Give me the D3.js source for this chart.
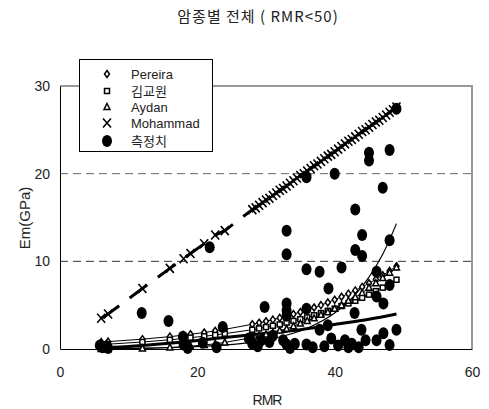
<!DOCTYPE html>
<html>
<head>
<meta charset="utf-8">
<script src="https://cdn.jsdelivr.net/npm/d3@7"></script>
<style>
  body { margin: 0; background: #fff; }
  text { font-family: "Liberation Sans", Arial, sans-serif; fill: #222; }
  .ko { font-family: "Noto Sans CJK KR", "Liberation Sans", sans-serif; }
</style>
</head>
<body>
<div id="root"></div>
<script>
// RMR values where the empirical models were evaluated
const modelRmr = [6, 7, 12, 16, 18, 19, 21, 22.6, 24, 28, 29, 30, 31, 32, 33, 34, 35, 36, 37, 38, 39, 40, 41, 42, 43, 44, 45, 46, 47, 48, 49];
const pereira = [0.79, 0.84, 1.12, 1.41, 1.58, 1.68, 1.88, 2.07, 2.24, 2.82, 2.99, 3.16, 3.35, 3.55, 3.76, 3.98, 4.22, 4.47, 4.73, 5.01, 5.31, 5.62, 5.96, 6.31, 6.68, 7.08, 7.5, 7.94, 8.41, 8.91, 9.44];
const kim = [0.5, 0.55, 0.8, 1.05, 1.2, 1.3, 1.45, 1.6, 1.75, 2.2, 2.35, 2.5, 2.65, 2.8, 3.0, 3.2, 3.4, 3.6, 3.85, 4.1, 4.35, 4.6, 4.9, 5.2, 5.5, 5.85, 6.2, 6.6, 7.0, 7.4, 7.9];
const aydan = [0.01, 0.01, 0.07, 0.18, 0.27, 0.32, 0.46, 0.59, 0.75, 1.3, 1.5, 1.64, 1.85, 2.1, 2.3, 2.6, 2.9, 3.2, 3.5, 3.9, 4.2, 4.6, 5.0, 5.5, 5.9, 6.4, 7.0, 7.5, 8.1, 8.7, 9.3];
const mohammad = [3.5, 4.0, 6.9, 9.2, 10.3, 10.9, 12.0, 13.0, 13.5, 15.9, 16.4, 17.0, 17.5, 18.1, 18.6, 19.2, 19.8, 20.3, 20.9, 21.4, 22.0, 22.5, 23.1, 23.7, 24.2, 24.8, 25.3, 25.9, 26.4, 27.0, 27.6];

// extra Mohammad markers in the dense part (repeated RMR values)
const mohExtraRmr = [28.5, 29.5, 30.5, 31.5, 32.5, 33.5, 34.5, 35.5, 36.5, 37.5, 38.5, 39.5, 40.5, 41.5, 42.5, 43.5, 44.5, 45.5, 46.5, 47.5, 48.5];
const mohExtraEm = [16.1, 16.7, 17.2, 17.8, 18.3, 18.9, 19.5, 20.0, 20.6, 21.1, 21.7, 22.2, 22.8, 23.4, 23.9, 24.5, 25.0, 25.6, 26.1, 26.7, 27.3];

// measured values (측정치)
const measRmr = [5.8, 6.2, 6.8, 7.0, 11.9, 15.8, 17.9, 18.0, 18.6, 20.8, 21.8, 22.8, 23.7,
  27.5, 28.0, 28.8, 29.3, 29.8, 30.5, 31.0, 32.5, 33, 33, 33, 33, 33, 33, 33.5, 34.2,
  35.9, 35.9, 35.9, 35.9, 36.8, 37.8, 37.8, 38.5, 39.1, 39.0, 39.5, 40, 40.5, 41, 41.5, 42, 42.5,
  43, 43, 42.9, 43.5, 44, 44, 43.9, 44.5, 45, 45, 46.1, 46.1, 46.1, 47, 47.1, 47.1,
  48, 48, 48, 48, 49, 49];
const measEm = [0.4, 0.2, 0.3, 0.1, 4.1, 3.2, 1.4, 0.5, 0.1, 0.7, 11.6, 0.2, 2.5,
  1.2, 0.6, 0.3, 1.0, 4.8, 0.8, 1.5, 1.0, 13.5, 10.8, 5.2, 4.4, 3.8, 0.5, 0.1, 0.6,
  19.6, 9.1, 4.6, 0.5, 0.2, 8.8, 2.2, 0.3, 6.9, 2.7, 1.2, 20.0, 0.4, 9.3, 1.0, 0.2, 0.6,
  15.9, 11.3, 4.1, 0.2, 13.0, 10.6, 2.2, 1.0, 22.4, 21.5, 8.8, 6.0, 1.0, 18.4, 5.2, 1.8,
  22.7, 12.4, 7.3, 0.45, 2.2, 27.4];

// trend curves
const expFitRmr = [6, 12, 18, 24, 28, 32, 36, 40, 43, 45, 47, 49];
const expFitEm = [0.04, 0.09, 0.2, 0.46, 0.79, 1.37, 2.37, 4.1, 6.2, 8.2, 10.8, 14.3];
const powFitRmr = [6, 12, 18, 24, 30, 35, 40, 45, 49];
const powFitEm = [0.1, 0.4, 0.8, 1.3, 1.8, 2.2, 2.8, 3.4, 4.0];

const xTicks = [0, 20, 40, 60];
const yTicks = [0, 10, 20, 30];
const gridValues = [10, 20];
const legendNames = ["Pereira", "김교원", "Aydan", "Mohammad", "측정치"];

const width = 489, height = 409;
const svg = d3.select("#root").append("svg")
  .attr("width", width)
  .attr("height", height);

const x = d3.scaleLinear().domain([0, 60]).range([60, 472]);
const y = d3.scaleLinear().domain([0, 30]).range([349, 86]);

// title
svg.append("text")
  .attr("class", "ko")
  .attr("x", 258)
  .attr("y", 22)
  .attr("text-anchor", "middle")
  .attr("font-size", 15)
  .attr("letter-spacing", 1)
  .text("암종별 전체 ( RMR<50)");

// gridlines
svg.selectAll(".grid")
  .data(gridValues)
  .join("line")
  .attr("x1", x(0))
  .attr("x2", x(60))
  .attr("y1", (d) => y(d))
  .attr("y2", (d) => y(d))
  .attr("stroke", (d) => (d === 20 ? "#666" : "#333"))
  .attr("stroke-width", 1)
  .attr("stroke-dasharray", "8,5");

// plot border (top/right gray)
svg.append("path")
  .attr("d", `M${x(0)},${y(30)}H${x(60)}V${y(0)}`)
  .attr("fill", "none")
  .attr("stroke", "#999")
  .attr("stroke-width", 2);

// axes
const xAxis = d3.axisBottom(x).tickValues(xTicks).tickSize(0).tickPadding(18);
const yAxis = d3.axisLeft(y).tickValues(yTicks).tickSize(0).tickPadding(10);

const gx = svg.append("g").attr("transform", `translate(0,${y(0)})`).call(xAxis);
const gy = svg.append("g").attr("transform", `translate(${x(0)},0)`).call(yAxis);
[gx, gy].forEach((g) => {
  g.select(".domain").attr("stroke", "#000");
  g.selectAll("text")
    .attr("font-size", 14)
    .attr("fill", "#222")
    .attr("font-family", "Liberation Sans, Arial, sans-serif");
});

svg.append("text")
  .attr("x", 267)
  .attr("y", 405)
  .attr("text-anchor", "middle")
  .attr("font-size", 14)
  .attr("letter-spacing", -1)
  .text("RMR");

svg.append("text")
  .attr("transform", "translate(30,218) rotate(-90)")
  .attr("text-anchor", "middle")
  .attr("font-size", 15)
  .text("Em(GPa)");

const line = d3.line()
  .x((d) => x(d[0]))
  .y((d) => y(d[1]));
const smooth = d3.line()
  .x((d) => x(d[0]))
  .y((d) => y(d[1]))
  .curve(d3.curveMonotoneX);

// model connecting lines
[pereira, kim, aydan].forEach((vals) => {
  svg.append("path")
    .attr("d", line(modelRmr.map((r, i) => [r, vals[i]])))
    .attr("fill", "none")
    .attr("stroke", "#000")
    .attr("stroke-width", 1);
});

// Mohammad dashed line
svg.append("path")
  .attr("d", line(modelRmr.map((r, i) => [r, mohammad[i]])))
  .attr("fill", "none")
  .attr("stroke", "#000")
  .attr("stroke-width", 3)
  .attr("stroke-dasharray", "22,13");

// trend curves
svg.append("path")
  .attr("d", smooth(expFitRmr.map((r, i) => [r, expFitEm[i]])))
  .attr("fill", "none")
  .attr("stroke", "#000")
  .attr("stroke-width", 1.2);
svg.append("path")
  .attr("d", smooth(powFitRmr.map((r, i) => [r, powFitEm[i]])))
  .attr("fill", "none")
  .attr("stroke", "#000")
  .attr("stroke-width", 3);

// marker drawers
function drawMarker(g, type, cx, cy) {
  if (type === 0) {
    g.append("path")
      .attr("d", `M${cx},${cy - 3.5}L${cx + 2.5},${cy}L${cx},${cy + 3.5}L${cx - 2.5},${cy}Z`)
      .attr("fill", "#fff").attr("stroke", "#000").attr("stroke-width", 1.5);
  } else if (type === 1) {
    g.append("rect")
      .attr("x", cx - 2.5).attr("y", cy - 2.5).attr("width", 5).attr("height", 5)
      .attr("fill", "#fff").attr("stroke", "#000").attr("stroke-width", 1.5);
  } else if (type === 2) {
    g.append("path")
      .attr("d", `M${cx},${cy - 3.5}L${cx + 3},${cy + 2.5}L${cx - 3},${cy + 2.5}Z`)
      .attr("fill", "#fff").attr("stroke", "#000").attr("stroke-width", 1.5);
  } else if (type === 3) {
    g.append("path")
      .attr("d", `M${cx - 4},${cy - 4.5}L${cx + 4},${cy + 4.5}M${cx + 4},${cy - 4.5}L${cx - 4},${cy + 4.5}`)
      .attr("stroke", "#000").attr("stroke-width", 1.6);
  } else {
    g.append("ellipse")
      .attr("cx", cx).attr("cy", cy).attr("rx", 5).attr("ry", 6)
      .attr("fill", "#000");
  }
}

const marks = svg.append("g");
[pereira, kim, aydan, mohammad].forEach((vals, s) => {
  modelRmr.forEach((r, i) => drawMarker(marks, s, x(r), y(vals[i])));
});
mohExtraRmr.forEach((r, i) => drawMarker(marks, 3, x(r), y(mohExtraEm[i])));
measRmr.forEach((r, i) => drawMarker(marks, 4, x(r), y(measEm[i])));

// legend
const legend = svg.append("g");
legend.append("rect")
  .attr("x", 79.5).attr("y", 59.5)
  .attr("width", 133).attr("height", 92)
  .attr("fill", "#fff")
  .attr("stroke", "#000")
  .attr("stroke-width", 1);
const legendY = [74, 91, 107, 123, 141];
legendNames.forEach((name, i) => {
  drawMarker(legend, i, 107, legendY[i]);
  legend.append("text")
    .attr("class", i === 1 || i === 4 ? "ko" : null)
    .attr("x", 131)
    .attr("y", legendY[i] + 5)
    .attr("font-size", 13)
    .text(name);
});
</script>
</body>
</html>
